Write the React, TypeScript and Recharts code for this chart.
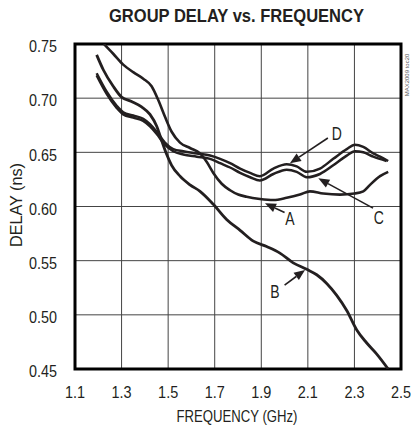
import React from 'react';
import {
  LineChart,
  Line,
  XAxis,
  YAxis,
  CartesianGrid,
  ReferenceArea,
  ReferenceLine,
  ReferenceDot,
} from 'recharts';

// ---- data (frequency in GHz, delay in ns) ----
const freqA = [1.224, 1.264, 1.307, 1.35, 1.393, 1.429, 1.458, 1.486, 1.515, 1.551, 1.594, 1.637, 1.666, 1.694, 1.73, 1.766, 1.801, 1.837, 1.894, 1.952, 2.009, 2.066, 2.109, 2.166, 2.238, 2.3, 2.338, 2.367, 2.41, 2.445];
const delayA = [0.75, 0.741, 0.731, 0.724, 0.718, 0.711, 0.698, 0.683, 0.669, 0.659, 0.654, 0.649, 0.641, 0.631, 0.621, 0.615, 0.611, 0.609, 0.607, 0.606, 0.608, 0.611, 0.614, 0.612, 0.611, 0.612, 0.614, 0.62, 0.628, 0.632];

const freqB = [1.193, 1.222, 1.264, 1.3, 1.343, 1.386, 1.422, 1.451, 1.472, 1.494, 1.515, 1.551, 1.594, 1.637, 1.694, 1.751, 1.809, 1.866, 1.923, 1.98, 2.037, 2.095, 2.138, 2.181, 2.224, 2.267, 2.31, 2.353, 2.395, 2.445];
const delayB = [0.74, 0.726, 0.711, 0.701, 0.697, 0.692, 0.685, 0.674, 0.661, 0.648, 0.638, 0.628, 0.62, 0.614, 0.602, 0.588, 0.578, 0.568, 0.563, 0.557, 0.548, 0.542, 0.537, 0.529, 0.518, 0.504, 0.486, 0.474, 0.464, 0.45];

const freqC = [1.193, 1.236, 1.279, 1.307, 1.35, 1.393, 1.422, 1.451, 1.486, 1.522, 1.565, 1.623, 1.68, 1.723, 1.766, 1.809, 1.852, 1.894, 1.952, 2.009, 2.052, 2.095, 2.152, 2.209, 2.267, 2.302, 2.338, 2.381, 2.438];
const delayC = [0.721, 0.704, 0.691, 0.685, 0.682, 0.679, 0.674, 0.667, 0.657, 0.651, 0.648, 0.646, 0.644, 0.64, 0.636, 0.631, 0.627, 0.624, 0.63, 0.634, 0.632, 0.627, 0.63, 0.638, 0.647, 0.651, 0.65, 0.646, 0.642];

const freqD = [1.193, 1.236, 1.279, 1.307, 1.35, 1.393, 1.422, 1.451, 1.486, 1.522, 1.565, 1.623, 1.68, 1.723, 1.766, 1.809, 1.852, 1.894, 1.952, 2.009, 2.052, 2.095, 2.152, 2.209, 2.267, 2.302, 2.338, 2.381, 2.41, 2.445];
const delayD = [0.723, 0.706, 0.693, 0.687, 0.684, 0.681, 0.676, 0.669, 0.659, 0.653, 0.651, 0.649, 0.647, 0.644, 0.64, 0.635, 0.631, 0.628, 0.635, 0.639, 0.637, 0.632, 0.635, 0.644, 0.653, 0.657, 0.655, 0.649, 0.646, 0.642];

const xTicks = [1.1, 1.3, 1.5, 1.7, 1.9, 2.1, 2.3, 2.5];
const yTicks = [0.45, 0.5, 0.55, 0.6, 0.65, 0.7, 0.75];

// annotations (data coordinates)
const noteLabels = ['A', 'B', 'C', 'D'];
const noteLabelX = [2.023, 1.959, 2.405, 2.224];
const noteLabelY = [0.5891, 0.5213, 0.5903, 0.6676];
const noteTailX = [2.0, 2.0, 2.38, 2.186];
const noteTailY = [0.5945, 0.5275, 0.5985, 0.6632];
const noteTipX = [1.916, 2.088, 2.145, 2.023];
const noteTipY = [0.603, 0.5414, 0.626, 0.6399];

const TITLE = 'GROUP DELAY vs. FREQUENCY';
const X_LABEL = 'FREQUENCY (GHz)';
const Y_LABEL = 'DELAY (ns)';
const SIDE_NOTE = 'MAX2009 toc20';

const toRows = (fs: number[], ds: number[]) => fs.map((f, i) => ({ f, d: ds[i] }));
const dataA = toRows(freqA, delayA);
const dataB = toRows(freqB, delayB);
const dataC = toRows(freqC, delayC);
const dataD = toRows(freqD, delayD);

const INK = '#231f20';
const FONT = "'Liberation Sans', Arial, sans-serif";

const XTick = (props: any) => {
  const { x, y, payload } = props;
  return (
    <text
      transform={`translate(${x},${y + 29}) scale(0.85,1)`}
      textAnchor="middle"
      fontFamily={FONT}
      fontSize={17}
      fill={INK}
    >
      {Number(payload.value).toFixed(1)}
    </text>
  );
};

const YTick = (props: any) => {
  const { x, y, payload } = props;
  return (
    <text
      transform={`translate(${x - 18},${y + 8.2}) scale(0.87,1)`}
      textAnchor="end"
      fontFamily={FONT}
      fontSize={16.5}
      fill={INK}
    >
      {Number(payload.value).toFixed(2)}
    </text>
  );
};

const ArrowShape = (p: any) => {
  const { x1, y1, x2, y2 } = p;
  if ([x1, y1, x2, y2].some((v) => v == null || isNaN(v))) return null;
  const dx = x2 - x1;
  const dy = y2 - y1;
  const len = Math.hypot(dx, dy) || 1;
  const ux = dx / len;
  const uy = dy / len;
  const hl = 11;
  const hw = 4.5;
  const bx = x2 - ux * hl;
  const by = y2 - uy * hl;
  return (
    <g>
      <line x1={x1} y1={y1} x2={bx} y2={by} stroke={INK} strokeWidth={1.6} />
      <polygon
        points={`${x2},${y2} ${bx - uy * hw},${by + ux * hw} ${bx + uy * hw},${by - ux * hw}`}
        fill={INK}
      />
    </g>
  );
};

const makeLabelShape = (label: string) => (p: any) => {
  const { cx, cy } = p;
  if (cx == null || cy == null) return null;
  return (
    <text
      transform={`translate(${cx},${cy + 6.5}) scale(0.8,1)`}
      textAnchor="middle"
      fontFamily={FONT}
      fontSize={17.5}
      fill={INK}
    >
      {label}
    </text>
  );
};

export default function App() {
  return (
    <div style={{ position: 'absolute', left: 0, top: 0, width: 411, height: 433, background: '#fff' }}>
      <LineChart width={411} height={433} margin={{ top: 44, right: 10, bottom: 34, left: 0 }}>
        <CartesianGrid stroke="#444" strokeWidth={1} />
        <XAxis
          type="number"
          dataKey="f"
          domain={[1.1, 2.5]}
          ticks={xTicks}
          allowDataOverflow
          height={30}
          tickSize={0}
          tickMargin={0}
          tickLine={false}
          axisLine={false}
          tick={<XTick />}
          interval={0}
        />
        <YAxis
          type="number"
          dataKey="d"
          domain={[0.45, 0.75]}
          ticks={yTicks}
          allowDataOverflow
          width={75}
          tickSize={0}
          tickMargin={0}
          tickLine={false}
          axisLine={false}
          tick={<YTick />}
          interval={0}
        />
        <Line data={dataA} dataKey="d" type="monotone" stroke={INK} strokeWidth={2.6} dot={false} isAnimationActive={false} />
        <Line data={dataB} dataKey="d" type="monotone" stroke={INK} strokeWidth={2.8} dot={false} isAnimationActive={false} />
        <Line data={dataC} dataKey="d" type="monotone" stroke={INK} strokeWidth={2.5} dot={false} isAnimationActive={false} />
        <Line data={dataD} dataKey="d" type="monotone" stroke={INK} strokeWidth={2.5} dot={false} isAnimationActive={false} />
        <ReferenceArea x1={1.1} x2={2.5} y1={0.45} y2={0.75} fill="none" fillOpacity={0} stroke="#000" strokeWidth={3} />
        {noteLabels.map((lab, i) => (
          <ReferenceLine
            key={'arr' + lab}
            segment={[
              { x: noteTailX[i], y: noteTailY[i] },
              { x: noteTipX[i], y: noteTipY[i] },
            ]}
            shape={ArrowShape}
          />
        ))}
        {noteLabels.map((lab, i) => (
          <ReferenceDot key={'lab' + lab} x={noteLabelX[i]} y={noteLabelY[i]} r={0} shape={makeLabelShape(lab)} />
        ))}
      </LineChart>
      <svg
        width={411}
        height={433}
        style={{ position: 'absolute', left: 0, top: 0, pointerEvents: 'none' }}
      >
        <text
          x={236.5}
          y={22}
          textAnchor="middle"
          fontFamily={FONT}
          fontWeight="bold"
          fontSize={18}
          fill={INK}
          textLength={255}
          lengthAdjust="spacingAndGlyphs"
        >
          {TITLE}
        </text>
        <text x={237} y={422} textAnchor="middle" fontFamily={FONT} fontSize={16} fill={INK} textLength={121} lengthAdjust="spacingAndGlyphs">
          {X_LABEL}
        </text>
        <text
          x={0}
          y={0}
          transform="translate(22,205) rotate(-90)"
          textAnchor="middle"
          fontFamily={FONT}
          fontSize={16}
          fill={INK}
          textLength={84}
          lengthAdjust="spacingAndGlyphs"
        >
          {Y_LABEL}
        </text>
        <text
          x={0}
          y={0}
          transform="translate(409,75) rotate(-90)"
          textAnchor="middle"
          fontFamily={FONT}
          fontSize={6}
          fill="#555"
        >
          {SIDE_NOTE}
        </text>
      </svg>
    </div>
  );
}
